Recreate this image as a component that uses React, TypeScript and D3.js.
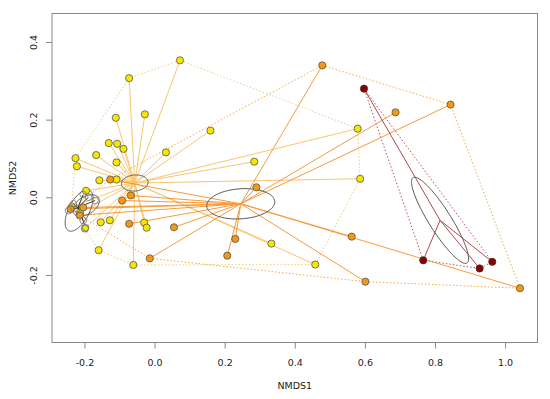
import React from "react";
import * as d3 from "d3";

const W = 550;
const H = 399;
const plotLeft = 52;
const plotRight = 537.5;
const plotTop = 13.5;
const plotBottom = 342.5;

const xDomain = [-0.294, 1.091];
const yDomain = [-0.3727, 0.4746];
const xTicks = [-0.2, 0.0, 0.2, 0.4, 0.6, 0.8, 1.0];
const yTicks = [-0.2, 0.0, 0.2, 0.4];
const xTitle = "NMDS1";
const yTitle = "NMDS2";

// Group: yellow
const yellowX = [0.071, -0.074, -0.112, -0.029, 0.158, -0.227, -0.223, -0.168, -0.132, -0.108, -0.090, -0.110, 0.031, 0.283, -0.159, -0.110, -0.197, -0.155, -0.129, -0.031, -0.024, -0.161, -0.062, 0.332, 0.457, 0.578, 0.585, -0.238, -0.200, -0.214];
const yellowY = [0.354, 0.308, 0.206, 0.215, 0.173, 0.102, 0.081, 0.110, 0.141, 0.139, 0.126, 0.091, 0.117, 0.093, 0.045, 0.047, 0.018, -0.063, -0.058, -0.064, -0.077, -0.135, -0.173, -0.118, -0.172, 0.178, 0.049, -0.024, -0.079, -0.038];
const yellowCentre = [-0.058, 0.038];
const yellowEllipse = [0.038, 0.003, -0.0015, 0.0206];

// Group: orange
const orangeX = [-0.128, 0.289, -0.069, -0.094, -0.241, -0.074, 0.054, -0.015, 0.229, 0.206, 0.477, 0.686, 0.843, 0.561, 0.600, 1.041, -0.215, -0.205];
const orangeY = [0.047, 0.027, 0.006, -0.007, -0.029, -0.067, -0.076, -0.156, -0.106, -0.149, 0.341, 0.220, 0.240, -0.100, -0.216, -0.233, -0.045, -0.025];
const orangeCentre = [0.2445, -0.0155];
const orangeEllipse = [0.097, 0.006, -0.003, 0.0386];

// Group: dark red
const darkredX = [0.596, 0.765, 0.926, 0.962];
const darkredY = [0.281, -0.161, -0.182, -0.165];
const darkredCentre = [0.813, -0.058];
const darkredEllipse = [0.077, -0.110, 0.0266, 0.0152];

// Group: grey (open symbols)
const greyX = [-0.205, -0.190, -0.171, -0.233, -0.223, -0.214, -0.205, -0.198, -0.247];
const greyY = [0.0085, 0.0015, -0.007, -0.0155, -0.028, -0.046, -0.0585, -0.077, -0.033];
const greyCentre = [-0.2197, -0.025];
const greyEllipseCentre = [-0.2168, -0.0327];
const greyEllipse = [0.030, 0.052, 0.026, -0.012];
const smallEllipseCentre = [-0.1969, -0.0198];
const smallEllipse = [0.036, 0.019, 0.012, -0.020];

const x = d3.scaleLinear().domain(xDomain).range([plotLeft, plotRight]);
const y = d3.scaleLinear().domain(yDomain).range([plotBottom, plotTop]);

function ellipsePath(c: number[], e: number[]) {
  const pts: [number, number][] = d3.range(0, 121).map((i) => {
    const t = (i / 120) * Math.PI * 2;
    return [
      x(c[0] + Math.cos(t) * e[0] + Math.sin(t) * e[2]),
      y(c[1] + Math.cos(t) * e[1] + Math.sin(t) * e[3]),
    ];
  });
  return d3.line().curve(d3.curveLinearClosed)(pts) || "";
}

function hullPath(xs: number[], ys: number[]) {
  const pts: [number, number][] = xs.map((v, i) => [x(v), y(ys[i])]);
  const h = d3.polygonHull(pts);
  return h ? "M" + h.map((p) => p.join(",")).join("L") + "Z" : "";
}

type Group = {
  xs: number[];
  ys: number[];
  centre: number[];
  fill: string;
  stroke: string;
  spider: string;
  hull: string;
  r: number;
};

const groups: Group[] = [
  { xs: yellowX, ys: yellowY, centre: yellowCentre, fill: "#F7E600", stroke: "#555", spider: "#F7BE55", hull: "#F7C462", r: 3.6 },
  { xs: orangeX, ys: orangeY, centre: orangeCentre, fill: "#F29812", stroke: "#555", spider: "#F58A1C", hull: "#F5A033", r: 3.6 },
  { xs: darkredX, ys: darkredY, centre: darkredCentre, fill: "#8B0000", stroke: "#333", spider: "#A42A2A", hull: "#B43C55", r: 3.6 },
  { xs: greyX, ys: greyY, centre: greyCentre, fill: "none", stroke: "#777", spider: "#111", hull: "none", r: 3.3 },
];

export default function App() {
  return (
    <svg width={W} height={H} style={{ position: "fixed", left: 0, top: 0, background: "#fff" }} fontFamily="DejaVu Sans">
      <rect x={0} y={0} width={W} height={H} fill="#fff" />
      {groups.map((g, gi) =>
        g.hull === "none" ? null : (
          <path key={"h" + gi} d={hullPath(g.xs, g.ys)} fill="none" stroke={g.hull} strokeWidth={1} strokeDasharray="1.5 2" opacity={0.9} />
        )
      )}
      {groups.map((g, gi) => (
        <g key={"s" + gi} stroke={g.spider} strokeWidth={1} opacity={0.85}>
          {g.xs.map((v, i) => (
            <line key={i} x1={x(g.centre[0])} y1={y(g.centre[1])} x2={x(v)} y2={y(g.ys[i])} />
          ))}
        </g>
      ))}
      <g fill="none" stroke="#555" strokeWidth={1}>
        <path d={ellipsePath(yellowCentre, yellowEllipse)} />
        <path d={ellipsePath(orangeCentre, orangeEllipse)} />
        <path d={ellipsePath(darkredCentre, darkredEllipse)} />
        <path d={ellipsePath(greyEllipseCentre, greyEllipse)} />
        <path d={ellipsePath(smallEllipseCentre, smallEllipse)} />
      </g>
      {groups.map((g, gi) => (
        <g key={"p" + gi}>
          {g.xs.map((v, i) => (
            <circle key={i} cx={x(v)} cy={y(g.ys[i])} r={g.r} fill={g.fill} stroke={g.stroke} strokeWidth={0.8} />
          ))}
        </g>
      ))}
      <rect x={plotLeft} y={plotTop} width={plotRight - plotLeft} height={plotBottom - plotTop} fill="none" stroke="#888" strokeWidth={1} />
      {xTicks.map((t) => (
        <g key={"xt" + t}>
          <line x1={x(t)} x2={x(t)} y1={plotBottom} y2={plotBottom + 6} stroke="#888" />
          <text x={x(t)} y={366} textAnchor="middle" fontSize={9.5} fill="#222">
            {t.toFixed(1)}
          </text>
        </g>
      ))}
      {yTicks.map((t) => (
        <g key={"yt" + t}>
          <line x1={plotLeft - 6} x2={plotLeft} y1={y(t)} y2={y(t)} stroke="#888" />
          <text transform={`translate(37,${y(t)}) rotate(-90)`} textAnchor="middle" fontSize={9.5} fill="#222">
            {t.toFixed(1)}
          </text>
        </g>
      ))}
      <text x={(plotLeft + plotRight) / 2} y={389} textAnchor="middle" fontSize={9.5} fill="#222">
        {xTitle}
      </text>
      <text transform={`translate(16,${(plotTop + plotBottom) / 2}) rotate(-90)`} textAnchor="middle" fontSize={9.5} fill="#222">
        {yTitle}
      </text>
    </svg>
  );
}
